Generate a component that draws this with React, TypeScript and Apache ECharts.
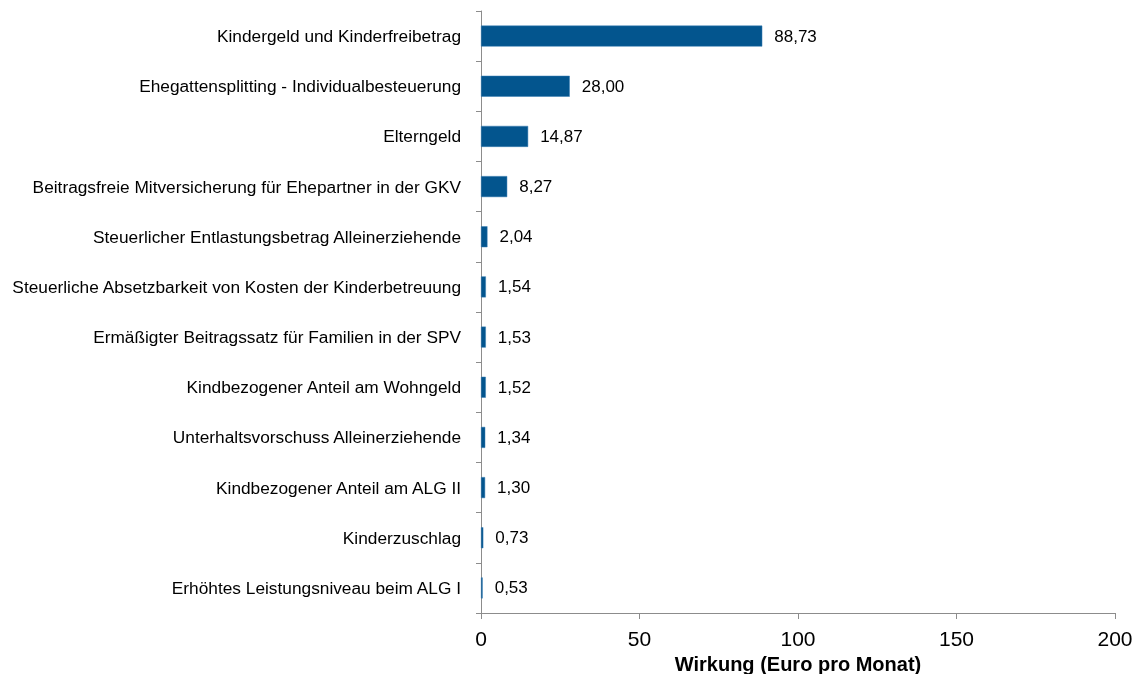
import React, { useEffect, useRef } from "react";
import * as echarts from "echarts";

const categories = [
  "Kindergeld und Kinderfreibetrag",
  "Ehegattensplitting - Individualbesteuerung",
  "Elterngeld",
  "Beitragsfreie Mitversicherung für Ehepartner in der GKV",
  "Steuerlicher Entlastungsbetrag Alleinerziehende",
  "Steuerliche Absetzbarkeit von Kosten der Kinderbetreuung",
  "Ermäßigter Beitragssatz für Familien in der SPV",
  "Kindbezogener Anteil am Wohngeld",
  "Unterhaltsvorschuss Alleinerziehende",
  "Kindbezogener Anteil am ALG II",
  "Kinderzuschlag",
  "Erhöhtes Leistungsniveau beim ALG I",
];
const values = [88.73, 28.0, 14.87, 8.27, 2.04, 1.54, 1.53, 1.52, 1.34, 1.3, 0.73, 0.53];
const xTicks = [0, 50, 100, 150, 200];
const axisTitle = "Wirkung (Euro pro Monat)";

const FONT = "Liberation Sans, Arial, sans-serif";

export default function App() {
  const ref = useRef<HTMLDivElement>(null);
  useEffect(() => {
    const chart = echarts.init(ref.current!, null, { renderer: "svg" });
    chart.setOption({
      animation: false,
      grid: { left: 481, right: 20, top: 11, bottom: 61, containLabel: false, outerBoundsMode: "none" },
      xAxis: {
        type: "value",
        min: xTicks[0],
        max: xTicks[xTicks.length - 1],
        interval: 50,
        splitLine: { show: false },
        axisLine: { show: true, lineStyle: { color: "#8c8c8c", width: 1 } },
        axisTick: { show: true, length: 6, lineStyle: { color: "#8c8c8c" } },
        axisLabel: { color: "#000", fontSize: 21, fontFamily: FONT, margin: 15 },
        name: axisTitle,
        nameLocation: "middle",
        nameGap: 40,
        nameTextStyle: { color: "#000", fontSize: 20, fontWeight: "bold", fontFamily: FONT },
      },
      yAxis: {
        type: "category",
        data: categories,
        inverse: true,
        axisLine: { show: true, lineStyle: { color: "#8c8c8c", width: 1 } },
        axisTick: { show: true, length: 5, lineStyle: { color: "#8c8c8c" } },
        axisLabel: { color: "#000", fontSize: 17.3, fontFamily: FONT, margin: 20, padding: [3, 0, 0, 0] },
      },
      series: [
        {
          type: "bar",
          data: values,
          barWidth: 21,
          itemStyle: { color: "#03558e", borderColor: "#3a7fb5", borderWidth: 0.5 },
          label: {
            show: true,
            position: "right",
            distance: 12,
            color: "#000",
            fontSize: 17,
            fontFamily: FONT,
            padding: [3, 0, 0, 0],
            formatter: (p: any) => Number(p.value).toFixed(2).replace(".", ","),
          },
        },
      ],
    });
    return () => chart.dispose();
  }, []);
  return <div ref={ref} style={{ position: "fixed", left: 0, top: 0, width: 1135, height: 674 }} />;
}
